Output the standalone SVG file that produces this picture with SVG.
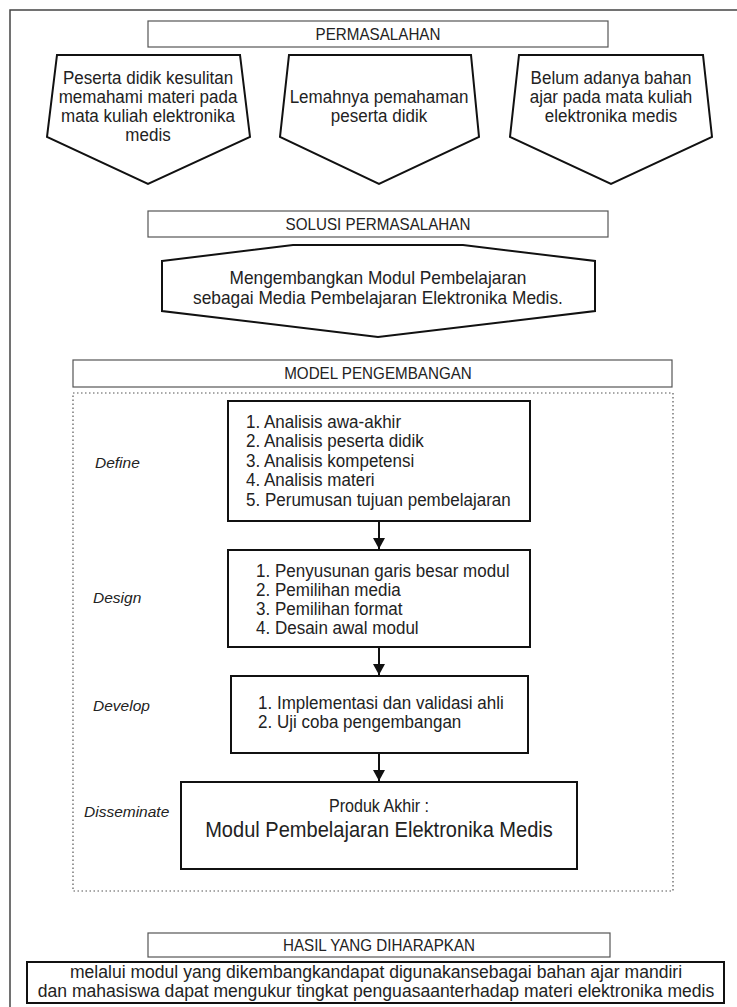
<svg xmlns="http://www.w3.org/2000/svg" width="737" height="1007" viewBox="0 0 737 1007">
<defs>
<style>
text{font-family:"Liberation Sans",Arial,sans-serif;fill:#222;}
.hd{font-size:16px;text-anchor:middle;}
.t{font-size:18.5px;text-anchor:middle;}
.l{font-size:18.5px;}
.lab{font-size:15.5px;font-style:italic;}
.hbox{fill:#fff;stroke:#555;stroke-width:1.2;}
.shape{fill:#fff;stroke:#111;stroke-width:2;}
.conn{stroke:#111;stroke-width:2;fill:none;}
</style>
<marker id="arr" markerWidth="11" markerHeight="12" refX="11" refY="6" orient="auto" markerUnits="userSpaceOnUse">
<path d="M0,0 L11,6 L0,12 Z" fill="#111"/>
</marker>
</defs>
<rect x="0" y="0" width="737" height="1007" fill="#fff"/>
<rect id="frame" x="10" y="10" width="740" height="1010" fill="none" stroke="#444" stroke-width="1.5"/>

<g id="permasalahan">
<rect class="hbox" x="148" y="21" width="460" height="26"/>
<g transform="translate(378,0) scale(0.95,1)"><text class="hd" x="0" y="40">PERMASALAHAN</text></g>
</g>
<g id="masalah1">
<polygon class="shape" points="57,55 240,55 250,137 148,184 47,137"/>
<g transform="translate(148,0) scale(0.92,1)">
<text class="t" x="0" y="84">Peserta didik kesulitan</text>
<text class="t" x="0" y="103">memahami materi pada</text>
<text class="t" x="0" y="122">mata kuliah elektronika</text>
<text class="t" x="0" y="141">medis</text>
</g>
</g>
<g id="masalah2">
<polygon class="shape" points="289,55 471,55 479,137 379,184 280,137"/>
<g transform="translate(379,0) scale(0.92,1)">
<text class="t" x="0" y="103">Lemahnya pemahaman</text>
<text class="t" x="0" y="122">peserta didik</text>
</g>
</g>
<g id="masalah3">
<polygon class="shape" points="519,55 703,55 712,137 611,184 510,137"/>
<g transform="translate(611,0) scale(0.92,1)">
<text class="t" x="0" y="84">Belum adanya bahan</text>
<text class="t" x="0" y="103">ajar pada mata kuliah</text>
<text class="t" x="0" y="122">elektronika medis</text>
</g>
</g>

<g id="solusi">
<rect class="hbox" x="148" y="211" width="460" height="26"/>
<g transform="translate(378,0) scale(0.95,1)"><text class="hd" x="0" y="230">SOLUSI PERMASALAHAN</text></g>
</g>
<g id="solusi-isi">
<polygon class="shape" points="162,261 293,245 463,245 595,261 595,311 378,337 162,311"/>
<g transform="translate(378,0) scale(0.92,1)">
<text class="t" x="0" y="284.5" style="font-size:18.8px">Mengembangkan Modul Pembelajaran</text>
<text class="t" x="0" y="304" style="font-size:18.8px">sebagai Media Pembelajaran Elektronika Medis.</text>
</g>
</g>

<g id="model">
<rect class="hbox" x="73" y="360" width="599" height="27"/>
<g transform="translate(378,0) scale(0.95,1)"><text class="hd" x="0" y="379.5">MODEL PENGEMBANGAN</text></g>
</g>
<rect id="dotted" x="73" y="393" width="600" height="498" fill="none" stroke="#555" stroke-width="1.2" stroke-dasharray="1.5,2.5"/>

<g id="define">
<text class="lab" x="95" y="468">Define</text>
<rect class="shape" x="228" y="401" width="302" height="120"/>
<g transform="translate(246,0) scale(0.92,1)">
<text class="l" x="0" y="428">1. Analisis awa-akhir</text>
<text class="l" x="0" y="447.5">2. Analisis peserta didik</text>
<text class="l" x="0" y="467">3. Analisis kompetensi</text>
<text class="l" x="0" y="486.5">4. Analisis materi</text>
<text class="l" x="0" y="506">5. Perumusan tujuan pembelajaran</text>
</g>
</g>
<g id="design">
<text class="lab" x="93" y="603">Design</text>
<rect class="shape" x="228" y="550" width="302" height="97"/>
<g transform="translate(256,0) scale(0.92,1)">
<text class="l" x="0" y="577">1. Penyusunan garis besar modul</text>
<text class="l" x="0" y="596">2. Pemilihan media</text>
<text class="l" x="0" y="615">3. Pemilihan format</text>
<text class="l" x="0" y="634">4. Desain awal modul</text>
</g>
</g>
<g id="develop">
<text class="lab" x="93" y="711">Develop</text>
<rect class="shape" x="231" y="676" width="297" height="77"/>
<g transform="translate(258,0) scale(0.92,1)">
<text class="l" x="0" y="709">1. Implementasi dan validasi ahli</text>
<text class="l" x="0" y="728">2. Uji coba pengembangan</text>
</g>
</g>
<g id="disseminate">
<text class="lab" x="84" y="817">Disseminate</text>
<rect class="shape" x="181" y="782" width="396" height="87"/>
<g transform="translate(379,0) scale(0.92,1)">
<text class="t" x="0" y="812" style="font-size:17.5px">Produk Akhir :</text>
<text class="t" x="0" y="837" style="font-size:21.8px">Modul Pembelajaran Elektronika Medis</text>
</g>
</g>

<g id="connectors">
<line class="conn" x1="379" y1="521" x2="379" y2="549" marker-end="url(#arr)"/>
<line class="conn" x1="379" y1="647" x2="379" y2="675" marker-end="url(#arr)"/>
<line class="conn" x1="379" y1="753" x2="379" y2="781" marker-end="url(#arr)"/>
</g>

<g id="hasil">
<rect class="hbox" x="148" y="933" width="462" height="24"/>
<g transform="translate(379,0) scale(0.95,1)"><text class="hd" x="0" y="951">HASIL YANG DIHARAPKAN</text></g>
</g>
<g id="hasil-isi">
<rect class="shape" x="27" y="962" width="697" height="41"/>
<g transform="translate(376,0) scale(0.95,1)">
<text class="t" x="0" y="978">melalui modul yang dikembangkandapat digunakansebagai bahan ajar mandiri</text>
<text class="t" x="0" y="997">dan mahasiswa dapat mengukur tingkat penguasaanterhadap materi elektronika medis</text>
</g>
</g>
</svg>
